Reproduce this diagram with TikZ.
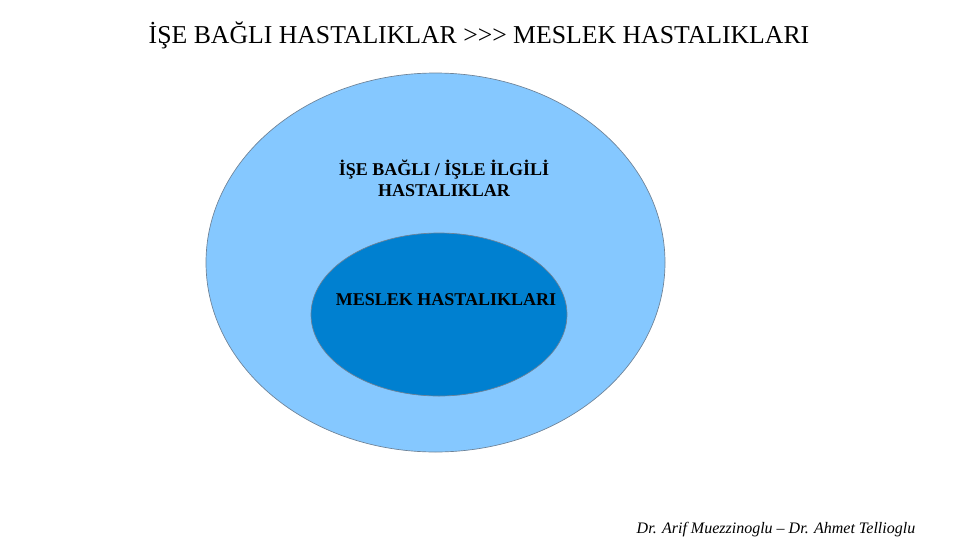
\documentclass[tikz,border=0pt]{standalone}
\usepackage{fontspec}
\setmainfont{Liberation Serif}
\usetikzlibrary{shapes.geometric}
\tikzset{every picture/.style={line width=0.75pt}}
\definecolor{outerblue}{RGB}{133,200,255}
\definecolor{innerblue}{RGB}{0,128,208}
\definecolor{rimgray}{RGB}{110,130,150}

\begin{document}
\begin{tikzpicture}[x=0.75pt,y=0.75pt,yscale=-1,xscale=1,
  bubble/.style={ellipse,draw=rimgray,line width=0.5pt,inner sep=0pt},
  boldlabel/.style={inner sep=0.75pt,font=\fontsize{13.5}{16}\selectfont\bfseries}]
\useasboundingbox (0,0) rectangle (960,540);

%Shape: Ellipse [outer]
\node (outer) at (435.5,262.5) [bubble,fill=outerblue,minimum width=344.25pt,minimum height=284.25pt] {};
%Shape: Ellipse [inner]
\node (inner) at (439,314.5) [bubble,fill=innerblue,minimum width=192pt,minimum height=122.25pt] {};

% Text Node
\draw (479,35) node (title) [inner sep=0.75pt,font=\fontsize{19.3}{23}\selectfont] {İŞE BAĞLI HASTALIKLAR >{}>{}> MESLEK HASTALIKLARI};
% Text Node
\draw (444,178.5) node (outerlabel) [boldlabel,align=center] {İŞE BAĞLI / İŞLE İLGİLİ\\HASTALIKLAR};
% Text Node
\draw (446,300) node (innerlabel) [boldlabel] {MESLEK HASTALIKLARI};
% Text Node
\draw (776,530) node (credit) [inner sep=0.75pt,font=\fontsize{12}{14}\selectfont\itshape] {Dr. Arif Muezzinoglu – Dr. Ahmet Tellioglu};

\end{tikzpicture}
\end{document}
